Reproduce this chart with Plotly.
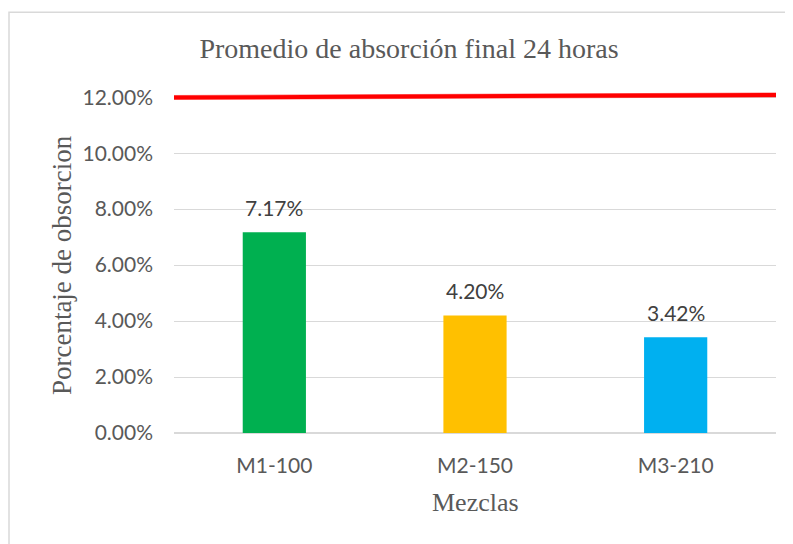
import plotly.graph_objects as go

categories = ["M1-100", "M2-150", "M3-210"]
values = [7.17, 4.20, 3.42]
bar_colors = ["#00B050", "#FFC000", "#00B0F0"]
limit_x = [0, 1]
limit_y = [11.99, 12.08]
y_ticks = [0, 2, 4, 6, 8, 10, 12]
y_tick_labels = ["0.00%", "2.00%", "4.00%", "6.00%", "8.00%", "10.00%", "12.00%"]

title_text = "Promedio de absorción final 24 horas"
x_title = "Mezclas"
y_title = "Porcentaje de obsorcion"

# page body has an 8px default margin; lay out in figure pixels
W, H = 793, 544
L, B, R = 166, 119, 25
PX_PER_UNIT = 28.0
Y_TOP = 12.4  # a little headroom above 12% so the limit line is not clipped
PH = Y_TOP * PX_PER_UNIT
T = H - B - PH
PW = W - L - R


def px(xp):
    return (xp - L) / PW


def py(yp):
    return (H - B - yp) / PH


fig = go.Figure()
fig.add_trace(go.Bar(
    x=categories, y=values, marker_color=bar_colors, marker_line_width=0,
    hoverinfo="x+y",
))

# red limit line drawn as a thin filled band (4 px thick)
half = 2.0 / PX_PER_UNIT
band_x = limit_x + limit_x[::-1]
band_y = [v - half for v in limit_y] + [v + half for v in limit_y[::-1]]
fig.add_trace(go.Scatter(
    x=band_x, y=band_y, xaxis="x2", yaxis="y", mode="lines", fill="toself",
    fillcolor="#FF0000", line=dict(color="#FF0000", width=0.5),
    hoverinfo="skip",
))

for c, v in zip(categories, values):
    fig.add_annotation(x=c, y=v, text=f"{v:.2f}%", showarrow=False,
                       yanchor="bottom", yshift=10,
                       font=dict(family="Lato", size=21, color="#404040"))

# axis titles
fig.add_annotation(xref="paper", yref="paper", x=px(54), y=py(257), text=y_title,
                   textangle=-90, showarrow=False, xanchor="center", yanchor="middle",
                   font=dict(family="Liberation Serif", size=27, color="#595959"))
fig.add_annotation(xref="paper", yref="paper", x=0.5, y=py(495), text=x_title,
                   showarrow=False, xanchor="center", yanchor="middle",
                   font=dict(family="Liberation Serif", size=26, color="#595959"))

# chart border
fig.add_shape(type="rect", xref="paper", yref="paper",
              x0=px(1), x1=px(810), y0=py(560), y1=py(4),
              line=dict(color="#D9D9D9", width=1.5), layer="below")

fig.update_layout(
    width=W, height=H,
    margin=dict(l=L, r=R, t=T, b=B, autoexpand=False),
    plot_bgcolor="white", paper_bgcolor="white",
    bargap=0.685,
    showlegend=False,
    title=dict(text=title_text, x=px(401), xref="paper", xanchor="center",
               y=1 - 40 / H, yanchor="middle",
               font=dict(family="Liberation Serif", size=28, color="#595959")),
    xaxis=dict(showgrid=False, showline=False, ticks="", ticklabelstandoff=18,
               tickfont=dict(family="Lato", size=21, color="#595959")),
    xaxis2=dict(overlaying="x", range=[0, 1], visible=False),
)
fig.update_yaxes(range=[0, Y_TOP], tickvals=y_ticks, ticktext=y_tick_labels,
                 showgrid=True, gridcolor="#D9D9D9", gridwidth=1,
                 zeroline=True, zerolinecolor="#D9D9D9", zerolinewidth=1.5,
                 showline=False, ticks="", ticklabelstandoff=20,
                 tickfont=dict(family="Lato", size=21, color="#595959"))

fig.write_html("out.html")
